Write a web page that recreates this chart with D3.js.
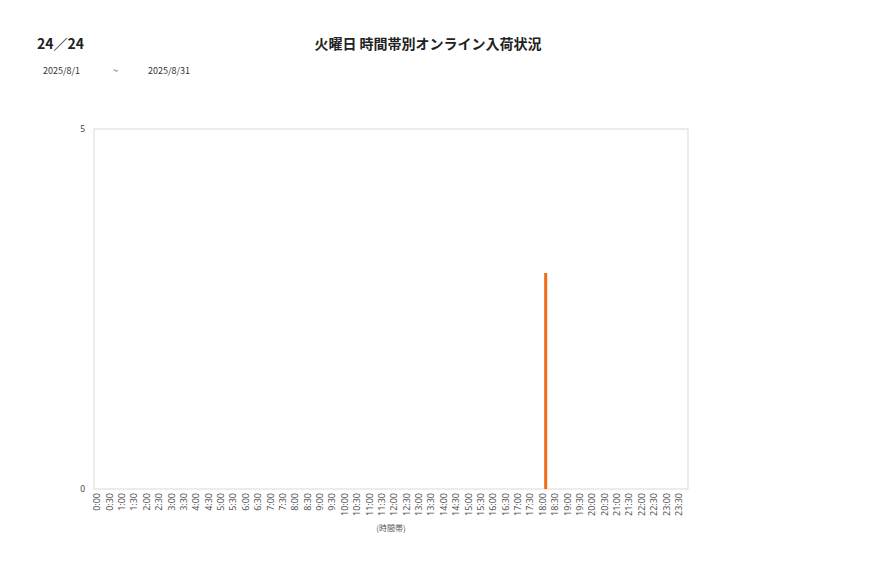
<!DOCTYPE html>
<html><head><meta charset="utf-8">
<script src="https://cdn.jsdelivr.net/npm/d3@7"></script>
<style>body{margin:0;background:#fff;font-family:"Noto Sans CJK JP","Noto Sans",sans-serif;}</style>
</head><body><svg id="c" width="877" height="578"></svg>
<script>
const pageLabel = "24／24";
const chartTitle = "火曜日 時間帯別オンライン入荷状況";
const dateFrom = "2025/8/1";
const dateTo = "2025/8/31";
const axisTitle = "(時間帯)";
const categories = ["0:00","0:30","1:00","1:30","2:00","2:30","3:00","3:30","4:00","4:30","5:00","5:30","6:00","6:30","7:00","7:30","8:00","8:30","9:00","9:30","10:00","10:30","11:00","11:30","12:00","12:30","13:00","13:30","14:00","14:30","15:00","15:30","16:00","16:30","17:00","17:30","18:00","18:30","19:00","19:30","20:00","20:30","21:00","21:30","22:00","22:30","23:00","23:30"];
const values = [0,0,0,0,0,0,0,0,0,0,0,0,0,0,0,0,0,0,0,0,0,0,0,0,0,0,0,0,0,0,0,0,0,0,0,0,3,0,0,0,0,0,0,0,0,0,0,0];
const yTicks = [0,5];

const svg = d3.select("#c");
const L=94,R=688,T=129,B=489;
const x = d3.scaleBand().domain(categories).range([L,R]);
const y = d3.scaleLinear().domain([0,5]).range([B,T]);

svg.append("text").attr("x",37).attr("y",49).attr("font-size",14).attr("font-weight","bold").attr("fill","#222").text(pageLabel);
svg.append("text").attr("x",428).attr("y",49).attr("text-anchor","middle").attr("font-size",14).attr("font-weight","bold").attr("fill","#222").text(chartTitle);
svg.append("text").attr("x",43).attr("y",74).attr("font-size",9).attr("fill","#333").text(dateFrom);
svg.append("text").attr("x",113).attr("y",74).attr("font-size",9).attr("fill","#333").text("~");
svg.append("text").attr("x",148).attr("y",74).attr("font-size",9).attr("fill","#333").text(dateTo);

svg.append("rect").attr("x",L).attr("y",T).attr("width",R-L).attr("height",B-T).attr("fill","none").attr("stroke","#d9d9d9").attr("stroke-width",1);

const yAxis = svg.append("g").attr("transform",`translate(${L},0)`).call(d3.axisLeft(y).tickValues(yTicks).tickFormat(d3.format("d")).tickSize(0).tickPadding(9));
yAxis.select(".domain").remove();
yAxis.selectAll("text").attr("font-size",8.5).attr("fill","#444").attr("font-family","Noto Sans, sans-serif");

const xAxis = svg.append("g").attr("transform",`translate(0,${B})`).call(d3.axisBottom(x).tickSize(0).tickPadding(0));
xAxis.select(".domain").remove();
xAxis.selectAll("text").attr("font-size",9).attr("fill","#555").attr("font-family","Noto Sans, sans-serif")
  .attr("text-anchor","end").attr("dy","0.35em").attr("transform","translate(-3,4) rotate(-90)").attr("x",0).attr("y",0);

svg.append("text").attr("x",391).attr("y",531).attr("text-anchor","middle").attr("font-size",8).attr("fill","#555").text(axisTitle);

svg.append("g").selectAll("rect").data(values.map((v,i)=>({c:categories[i],v}))).join("rect")
  .attr("x",d=>x(d.c)+x.bandwidth()/2-1.5).attr("width",3)
  .attr("y",d=>y(d.v)).attr("height",d=>B-y(d.v)).attr("fill","#f26a1b");
</script></body></html>
